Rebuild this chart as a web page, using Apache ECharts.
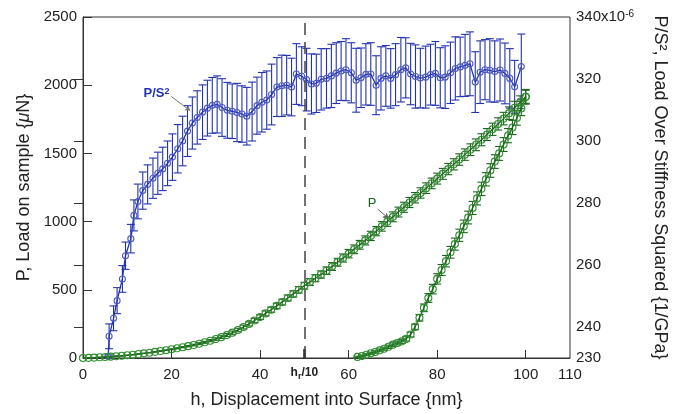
<!DOCTYPE html>
<html>
<head>
<meta charset="utf-8">
<script src="https://cdn.jsdelivr.net/npm/echarts@6/dist/echarts.min.js"></script>
<style>
  html, body { margin: 0; padding: 0; background: #ffffff; }
  #chart { width: 686px; height: 414px; }
</style>
</head>
<body>
<div id="chart"></div>
<script>
// Loading segment: displacement h (nm), load P (µN) and its scatter (µN)
const loadH = [0,1.25,2.5,3.75,5,6.25,7.5,8.75,10,11.25,12.5,13.75,15,16.25,17.5,18.75,20,21.25,22.5,23.75,25,26.25,27.5,28.75,30,31.25,32.5,33.75,35,36.25,37.5,38.75,40,41.25,42.5,43.75,45,46.25,47.5,48.75,50,51.25,52.5,53.75,55,56.25,57.5,58.75,60,61.25,62.5,63.75,65,66.25,67.5,68.75,70,71.25,72.5,73.75,75,76.25,77.5,78.75,80,81.25,82.5,83.75,85,86.25,87.5,88.75,90,91.25,92.5,93.75,95,96.25,97.5,98.75,100];
const loadP = [0,1,3,5,7,10,13,16,20,24,29,34,39,45,51,57,64,71,79,87,95,105,115,127,139,153,168,186,205,227,250,275,300,327,354,382,410,440,470,500,530,557,585,612,640,671,702,733,765,797,830,862,895,930,965,1000,1035,1070,1105,1140,1175,1210,1245,1280,1315,1350,1385,1420,1455,1491,1527,1563,1600,1638,1677,1716,1755,1795,1835,1875,1915];
const loadErr = [0,0,0,0,0,0,0,0,0,0,0,0,0,0,0,0,3,4,4,5,6,7,7,8,9,10,11,12,13,14,15,16,17,18,19,20,21,22,23,24,25,26,26,27,28,29,29,30,31,32,32,33,34,34,35,35,36,36,37,37,38,38,39,39,40,40,41,41,42,42,43,43,44,44,45,45,46,46,47,47,48];

// Unloading segment
const unloadH = [62,63,64,65,66,67,68,69,70,71,72,73,74,75,76,77,78,79,80,81,82,83,84,85,86,87,88,89,90,91,92,93,94,95,96,97,98,99,100];
const unloadP = [8,15,24,35,44,56,68,82,98,110,122,140,172,228,295,368,440,505,580,645,710,775,835,900,965,1030,1100,1170,1240,1310,1375,1440,1500,1565,1630,1690,1760,1830,1915];
const unloadErr = [5,6,7,8,9,10,11,12,13,14,15,16,18,20,24,28,32,35,38,40,42,43,44,45,46,47,48,48,49,49,50,50,51,51,52,52,53,53,54];

// Load over stiffness squared (x10^-6 1/GPa)
const psH = [5.7,5.9,6.9,7.7,8.9,9.6,10.8,11.5,12.4,13.5,14.6,15.8,16.9,18.0,19.1,20.2,21.4,22.5,23.6,24.7,25.8,27.0,28.1,29.2,30.3,31.4,32.6,33.7,34.8,35.9,37.0,38.2,39.3,40.4,41.5,42.6,43.8,44.9,46.0,47.1,48.2,49.4,50.5,51.6,52.7,53.8,55.0,56.1,57.2,58.3,59.4,60.6,61.7,62.8,63.9,65.0,66.2,67.3,68.4,69.5,70.6,71.8,72.9,74.0,75.1,76.2,77.4,78.5,79.6,80.7,81.8,83.0,84.1,85.2,86.3,87.4,88.6,89.7,90.8,91.9,93.0,94.2,95.3,96.4,97.5,99.0];
const psVal = [230.5,237.0,242.8,248.5,255.5,263.0,268.5,276.0,280.5,284.0,286.0,288.0,289.6,291.0,292.8,294.8,297.5,300.0,303.2,305.8,307.6,309.3,310.6,311.5,311.8,310.8,309.9,309.6,309.2,308.7,308.0,309.5,311.4,312.5,313.2,315.0,317.4,317.8,318.0,317.4,321.6,320.9,319.8,318.4,318.6,319.9,320.2,321.0,321.9,322.6,323.0,322.0,319.6,320.4,321.5,321.6,318.0,320.2,321.0,320.2,321.4,323.0,323.6,321.6,320.8,320.3,320.6,321.4,321.8,320.4,320.6,322.0,323.4,323.9,324.4,324.9,319.0,322.2,323.0,322.8,322.4,322.9,321.8,320.2,317.5,324.0];
const psErr = [0.5,4.0,4.0,4.2,4.3,4.4,4.6,5.0,5.6,6.0,6.3,6.5,6.8,7.0,7.2,7.5,7.8,8.0,8.2,8.4,8.6,8.8,9.0,9.0,9.2,9.3,9.0,8.8,9.4,9.1,9.3,9.5,9.2,9.6,9.4,9.8,9.5,9.9,9.6,9.3,9.8,9.5,10.1,9.7,9.4,9.9,9.6,10.2,9.8,9.5,10.0,9.7,10.3,9.6,9.9,10.1,9.5,10.2,9.8,9.6,10.0,10.4,9.7,9.9,10.2,9.6,10.0,9.8,10.3,9.7,10.1,9.9,10.2,9.6,10.0,10.3,9.8,10.1,9.7,10.2,9.9,10.0,9.8,9.6,8.5,10.5];

// Axis ticks and labels
const xLabelValues = [0, 20, 40, 50, 60, 80, 100, 110];
const xTickValues = [20, 40, 60, 80, 100];
const hrTenth = 50;
const rightLabelValues = [230, 240, 260, 280, 300, 320, 340];
const rightTickValues = [240, 260, 280, 300, 320];

const FONT = '"Liberation Sans", Arial, sans-serif';
const BLUE = '#2233b0';
const BLUE_MK = '#4d5ac4';
const GREEN = '#1c641c';
const GREEN_MK = '#2f8f2f';

function pairs(xs, ys) {
  return xs.map((x, i) => [x, ys[i]]);
}

function errorBars(xs, ys, errs, color, yAxisIndex, z) {
  return {
    type: 'custom',
    xAxisIndex: 0,
    yAxisIndex: yAxisIndex,
    clip: true,
    z: z,
    silent: true,
    data: xs.map((x, i) => [x, ys[i] - errs[i], ys[i] + errs[i]]),
    encode: { x: 0, y: [1, 2] },
    renderItem: function (params, api) {
      const lo = api.coord([api.value(0), api.value(1)]);
      const hi = api.coord([api.value(0), api.value(2)]);
      const w = 4;
      const st = { stroke: color, lineWidth: 1.1 };
      return {
        type: 'group',
        children: [
          { type: 'line', shape: { x1: lo[0], y1: lo[1], x2: hi[0], y2: hi[1] }, style: st },
          { type: 'line', shape: { x1: lo[0] - w, y1: lo[1], x2: lo[0] + w, y2: lo[1] }, style: st },
          { type: 'line', shape: { x1: hi[0] - w, y1: hi[1], x2: hi[0] + w, y2: hi[1] }, style: st }
        ]
      };
    }
  };
}

function curve(xs, ys, lineColor, markColor, size, yAxisIndex, z, extra) {
  return Object.assign({
    type: 'line',
    xAxisIndex: 0,
    yAxisIndex: yAxisIndex,
    data: pairs(xs, ys),
    z: z,
    symbol: 'circle',
    symbolSize: size,
    showSymbol: true,
    clip: true,
    lineStyle: { color: lineColor, width: 1.3 },
    itemStyle: { color: 'rgba(255,255,255,0)', borderColor: markColor, borderWidth: 1.1 },
    emphasis: { disabled: true },
    silent: true
  }, extra || {});
}

const chart = echarts.init(document.getElementById('chart'), null, { renderer: 'canvas' });

const option = {
  animation: false,
  backgroundColor: '#ffffff',
  textStyle: { fontFamily: FONT },
  grid: {
    left: 83, right: 116, top: 17, bottom: 56,
    show: true, borderColor: '#333', borderWidth: 1, backgroundColor: 'transparent'
  },
  xAxis: [
    {
      type: 'value', min: 0, max: 110,
      name: 'h, Displacement into Surface {nm}',
      nameLocation: 'middle', nameGap: 33,
      nameTextStyle: { fontSize: 18, color: '#222', fontFamily: FONT },
      axisLine: { show: true, lineStyle: { color: '#333', width: 1 } },
      axisTick: { show: true, inside: true, length: 8, customValues: xTickValues, lineStyle: { color: '#333' } },
      axisLabel: {
        customValues: xLabelValues, margin: 9, fontSize: 15, color: '#222', fontFamily: FONT,
        formatter: function (v) { return v === hrTenth ? '{hr|h}{sub|r}{hr|/10}' : String(v); },
        rich: {
          hr: { fontSize: 12, fontWeight: 'bold', color: '#222', verticalAlign: 'top', lineHeight: 14, fontFamily: FONT },
          sub: { fontSize: 9, fontWeight: 'bold', color: '#222', verticalAlign: 'bottom', padding: [5, 0, 0, 0], fontFamily: FONT }
        }
      },
      splitLine: { show: false }
    },
    {
      type: 'value', min: 0, max: 110, position: 'bottom',
      axisLine: { show: false },
      axisLabel: { show: false },
      axisTick: { show: true, inside: true, length: 9, customValues: [hrTenth], lineStyle: { color: '#222', width: 2.5 } },
      splitLine: { show: false }
    }
  ],
  yAxis: [
    {
      type: 'value', min: 0, max: 2500, interval: 500, position: 'left',
      name: 'P, Load on sample {{it|μ}N}',
      nameLocation: 'middle', nameGap: 47, nameRotate: 90,
      nameTextStyle: {
        fontSize: 18, color: '#222', fontFamily: FONT,
        rich: { it: { fontSize: 18, fontStyle: 'italic', color: '#222', fontFamily: FONT } }
      },
      axisLine: { show: true, lineStyle: { color: '#333', width: 1 } },
      axisTick: { show: true, inside: true, length: 9, lineStyle: { color: '#333' } },
      axisLabel: {
        fontSize: 15, color: '#222', margin: 6, fontFamily: FONT,
        formatter: function (v) { return String(v); }
      },
      splitLine: { show: false }
    },
    {
      type: 'value', min: 230, max: 340, position: 'right',
      name: 'P/S², Load Over Stiffness Squared {1/GPa}',
      nameLocation: 'middle', nameGap: 81, nameRotate: -90,
      nameTextStyle: { fontSize: 18, color: '#222', fontFamily: FONT },
      axisLine: { show: true, lineStyle: { color: '#333', width: 1 } },
      axisTick: { show: true, inside: true, length: 9, customValues: rightTickValues, lineStyle: { color: '#333' } },
      axisLabel: {
        customValues: rightLabelValues, fontSize: 15, color: '#222', margin: 6, fontFamily: FONT,
        formatter: function (v) { return v === 340 ? '{n|340x10}{sup|-6}' : String(v); },
        rich: {
          n: { fontSize: 15, color: '#222', fontFamily: FONT },
          sup: { fontSize: 10, color: '#222', verticalAlign: 'top', fontFamily: FONT }
        }
      },
      splitLine: { show: false }
    }
  ],
  series: [
    errorBars(psH, psVal, psErr, BLUE, 1, 2),
    curve(psH, psVal, BLUE, BLUE_MK, 6, 1, 3, {
      markPoint: {
        silent: true,
        symbol: 'circle', symbolSize: 1,
        itemStyle: { color: 'rgba(0,0,0,0)' },
        label: {
          show: true, position: 'inside',
          formatter: 'P/S{s|2}',
          fontSize: 13, fontWeight: 'bold', color: BLUE, fontFamily: FONT,
          rich: { s: { fontSize: 9, fontWeight: 'bold', color: BLUE, verticalAlign: 'top', fontFamily: FONT } }
        },
        data: [{ coord: [16.6, 315.4] }]
      },
      markLine: {
        silent: true,
        symbol: ['none', 'arrow'], symbolSize: 5,
        lineStyle: { color: '#777', width: 1, type: 'solid' },
        label: { show: false },
        data: [[{ coord: [19.9, 314.4] }, { coord: [24.2, 309.8] }]]
      }
    }),
    errorBars(loadH, loadP, loadErr, GREEN, 0, 4),
    curve(loadH, loadP, GREEN, GREEN_MK, 7, 0, 5, {
      markPoint: {
        silent: true,
        symbol: 'circle', symbolSize: 1,
        itemStyle: { color: 'rgba(0,0,0,0)' },
        label: { show: true, position: 'inside', formatter: 'P', fontSize: 13, color: GREEN, fontFamily: FONT },
        data: [{ coord: [65.3, 1130] }]
      },
      markLine: {
        silent: true,
        symbol: ['none', 'arrow'], symbolSize: 5,
        lineStyle: { color: '#666', width: 1, type: 'solid' },
        label: { show: false },
        data: [[{ coord: [66.6, 1090] }, { coord: [69.0, 1025] }]]
      }
    }),
    errorBars(unloadH, unloadP, unloadErr, GREEN, 0, 4),
    curve(unloadH, unloadP, GREEN, GREEN_MK, 7, 0, 5, {
      markLine: {
        silent: true,
        symbol: ['none', 'none'],
        lineStyle: { color: '#444', width: 1.5, type: [12, 7] },
        label: { show: false },
        data: [{ xAxis: hrTenth }]
      }
    })
  ]
};

chart.setOption(option);
</script>
</body>
</html>
